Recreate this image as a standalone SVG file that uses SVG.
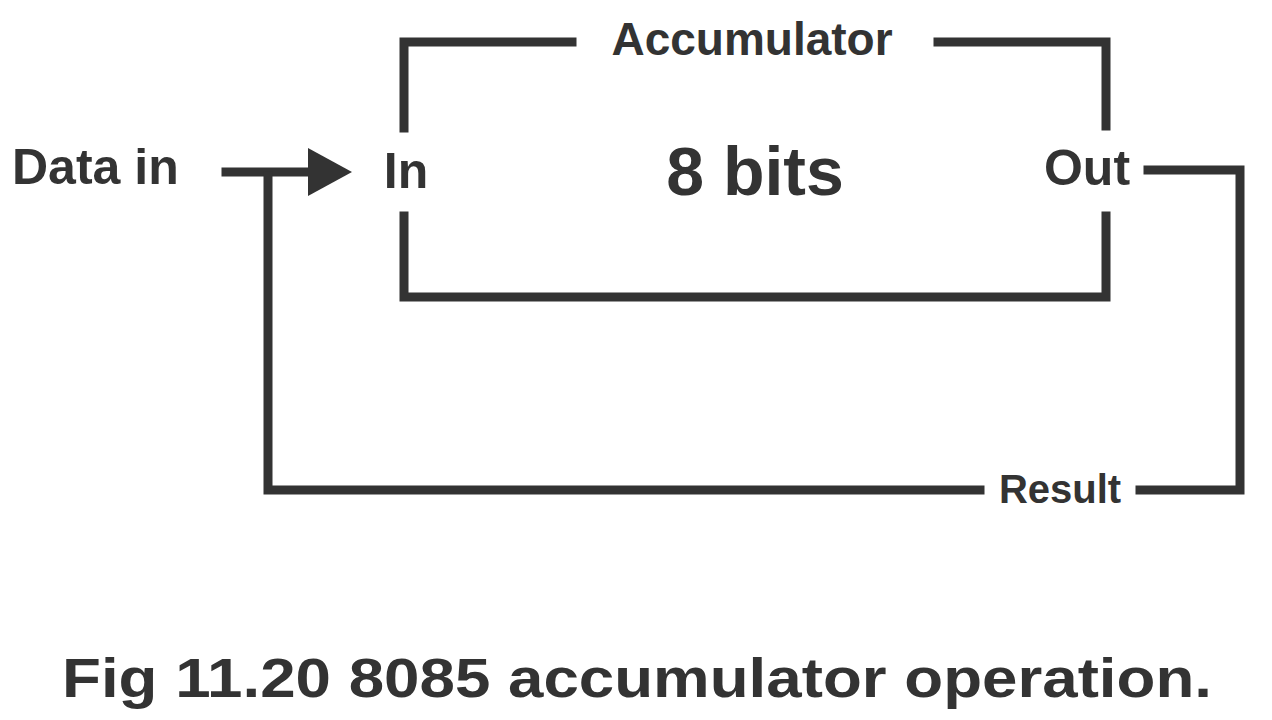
<svg xmlns="http://www.w3.org/2000/svg" width="1272" height="720" viewBox="0 0 1272 720">
<style>
.l{fill:none;stroke:#333;stroke-width:9;stroke-linecap:square}
text{font-family:"Liberation Sans",Arial,sans-serif;font-weight:bold;fill:#333}
</style>
<rect width="1272" height="720" fill="#fff"/>
<g id="connectors">
<polyline class="l" points="226,172 312,172"/>
<polygon points="308,148 352,172 308,196" fill="#333"/>
<polyline class="l" points="1148,170 1240,170 1240,490 1140,490"/>
<polyline class="l" points="980,490 268,490 268,176"/>
</g>
<g id="accumulator">
<polyline class="l" points="404,128 404,42 572,42"/>
<polyline class="l" points="938,42 1106,42 1106,126"/>
<polyline class="l" points="404,216 404,297 1106,297 1106,216"/>
<text x="752" y="55" font-size="46" text-anchor="middle">Accumulator</text>
<text x="406" y="188" font-size="50" text-anchor="middle">In</text>
<text x="1087" y="185" font-size="50" text-anchor="middle">Out</text>
<text x="755" y="195" font-size="68" text-anchor="middle">8 bits</text>
</g>
<g id="datain"><text x="12" y="184" font-size="50">Data in</text></g>
<g id="result"><text x="1060" y="503" font-size="40" text-anchor="middle">Result</text></g>
<text x="62" y="697" font-size="56" textLength="1150" lengthAdjust="spacingAndGlyphs" style="font-weight:900">Fig 11.20 8085 accumulator operation.</text>
</svg>
